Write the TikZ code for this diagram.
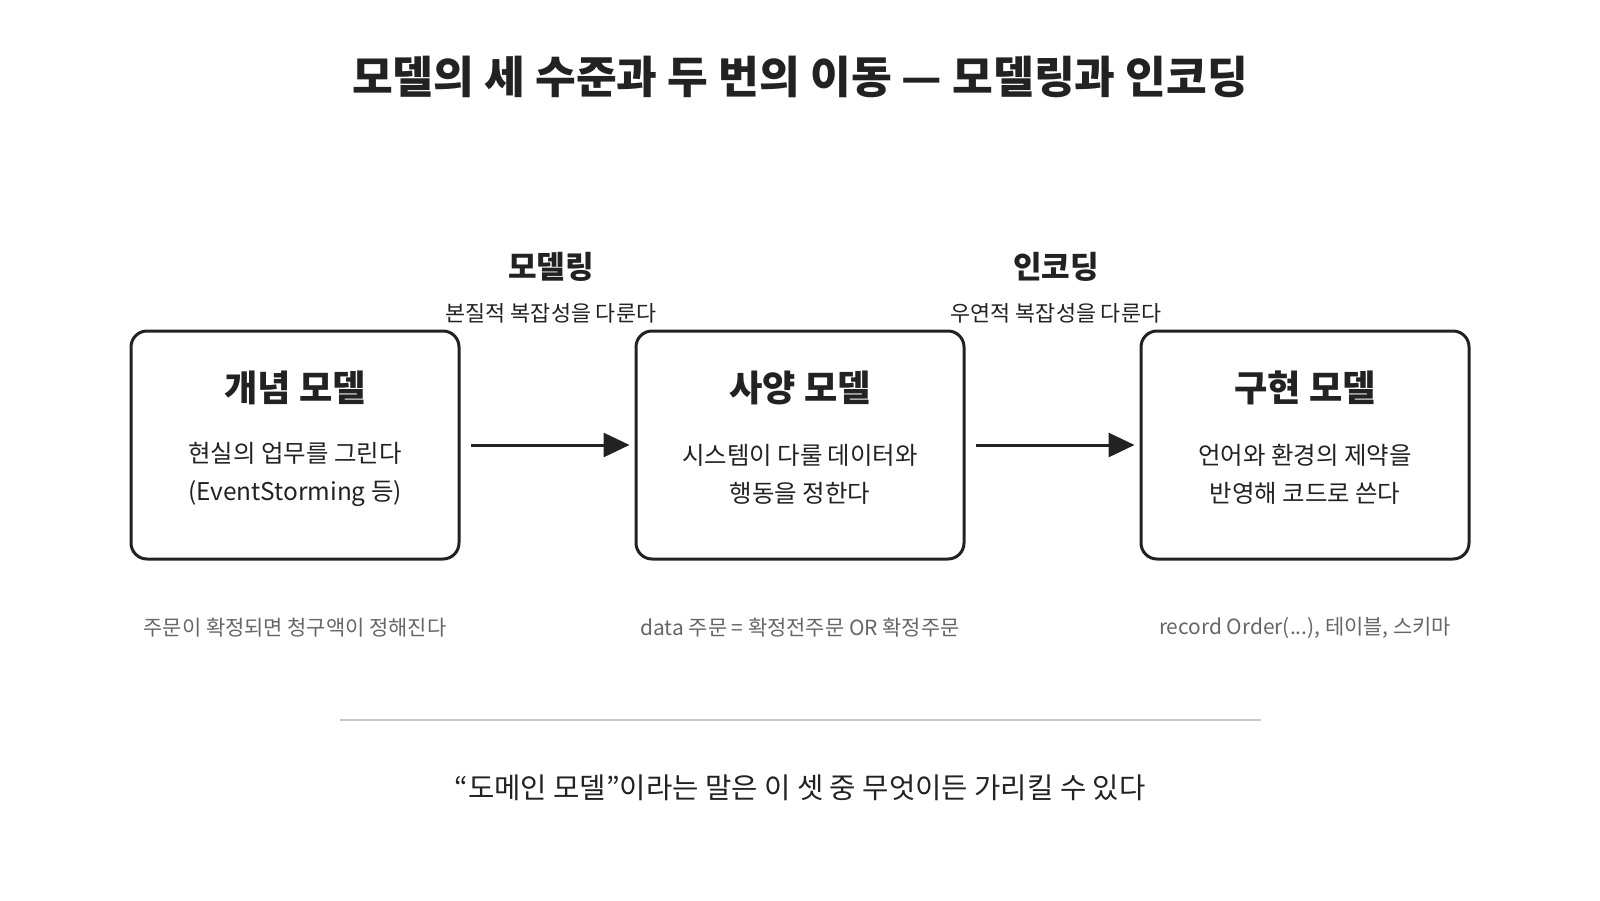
\documentclass[tikz,border=0pt]{standalone}
\usepackage{fontspec}
\setmainfont{Noto Sans CJK KR}
\usetikzlibrary{positioning, arrows.meta, calc}

\definecolor{ink}{HTML}{222222}
\definecolor{notegray}{HTML}{666666}
\definecolor{rulegray}{HTML}{C8C8C8}

\begin{document}
\begin{tikzpicture}[node distance=2cm, on grid, text=ink,
        model/.style={draw=ink, line width=0.03cm, rounded corners=0.16cm,
            minimum width=3.28cm, minimum height=2.28cm},
        head/.style={font=\fontsize{10.3}{12}\selectfont\bfseries},
        body/.style={font=\fontsize{6.95}{10.8}\selectfont, align=center},
        hop/.style={font=\fontsize{8.85}{10}\selectfont\bfseries},
        hopsub/.style={font=\fontsize{6.2}{7}\selectfont},
        example/.style={font=\fontsize{5.95}{7}\selectfont, text=notegray},
        flow/.style={-{Triangle[length=0.26cm, width=0.24cm]}, color=ink,
            line width=0.03cm, shorten <=0.1cm, shorten >=0.05cm}]
        \useasboundingbox[fill=white] (0,0) rectangle (16,9);

        \node[font=\fontsize{12.6}{14}\selectfont\bfseries] (title) at (8,8.23)
            {모델의 세 수준과 두 번의 이동 — 모델링과 인코딩};

        % the three models
        \node[model] (concept) at (2.95,4.55) {};
        \node[model] (spec) [right=5.05 of concept] {};
        \node[model] (impl) [right=5.05 of spec] {};

        \node[head] (concept head) [above=0.57 of concept] {개념 모델};
        \node[head] (spec head) [above=0.57 of spec] {사양 모델};
        \node[head] (impl head) [above=0.57 of impl] {구현 모델};

        \node[body] (concept body) [below=0.29 of concept] {현실의 업무를 그린다\\(EventStorming 등)};
        \node[body] (spec body) [below=0.29 of spec] {시스템이 다룰 데이터와\\행동을 정한다};
        \node[body] (impl body) [below=0.29 of impl] {언어와 환경의 제약을\\반영해 코드로 쓴다};

        \node[example] (concept ex) [below=1.83 of concept] {주문이 확정되면 청구액이 정해진다};
        \node[example] (spec ex) [below=1.83 of spec] {data 주문 = 확정전주문 OR 확정주문};
        \node[example] (impl ex) [below=1.83 of impl] {record Order(...), 테이블, 스키마};

        % the two moves
        \coordinate (mid1) at ($(concept.east)!0.5!(spec.west) + (0.035,0)$);
        \coordinate (mid2) at ($(spec.east)!0.5!(impl.west) + (0.035,0)$);

        \node[hop] (modeling) [above=1.78 of mid1, anchor=center] {모델링};
        \node[hopsub] (modeling sub) [above=1.32 of mid1, anchor=center] {본질적 복잡성을 다룬다};
        \node[hop] (encoding) [above=1.78 of mid2, anchor=center] {인코딩};
        \node[hopsub] (encoding sub) [above=1.32 of mid2, anchor=center] {우연적 복잡성을 다룬다};

        \path[flow]
        (concept) edge (spec)
        (spec) edge (impl);

        % closing remark
        \coordinate (rule west) at (3.40,1.80);
        \coordinate (rule east) at (12.61,1.80);
        \draw[rulegray, line width=0.02cm] (rule west) -- (rule east);

        \node[font=\fontsize{8.15}{9}\selectfont] (closing) at (8,1.12)
            {“도메인 모델”이라는 말은 이 셋 중 무엇이든 가리킬 수 있다};
\end{tikzpicture}
\end{document}
